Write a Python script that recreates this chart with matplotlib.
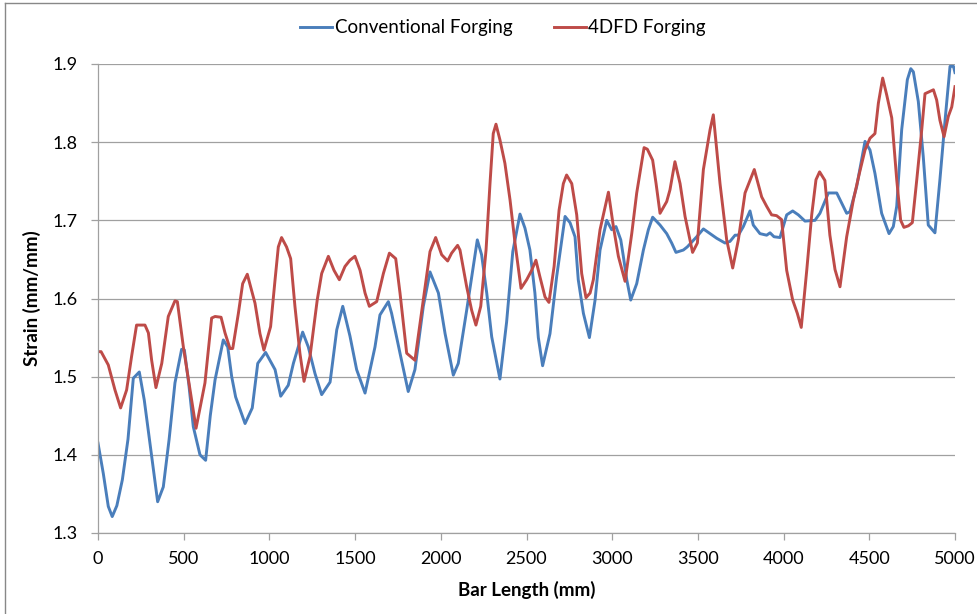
import matplotlib
matplotlib.use("Agg")
import matplotlib.pyplot as plt
from matplotlib.lines import Line2D

conv_x = [0, 31, 60, 83, 110, 142, 175, 206, 241, 270, 303, 348, 381, 415, 449, 488, 504, 530, 556, 595,
          628, 655, 683, 731, 757, 780, 803, 858, 900, 932, 978, 1033, 1066, 1110, 1140, 1194, 1227, 1266, 1305, 1354,
          1393, 1428, 1470, 1509, 1558, 1616, 1645, 1694, 1713, 1762, 1810, 1849, 1898, 1937, 1986, 2025, 2073, 2102, 2151, 2213,
          2238, 2268, 2297, 2345, 2384, 2420, 2462, 2491, 2520, 2549, 2569, 2594, 2637, 2676, 2725, 2754, 2783, 2802, 2832, 2867,
          2900, 2929, 2968, 2997, 3022, 3050, 3065, 3085, 3108, 3143, 3182, 3211, 3236, 3279, 3318, 3347, 3372, 3415, 3438, 3493,
          3532, 3610, 3658, 3687, 3717, 3736, 3765, 3804, 3823, 3862, 3901, 3921, 3944, 3979, 4018, 4053, 4086, 4125, 4183, 4212,
          4261, 4310, 4339, 4368, 4387, 4426, 4475, 4504, 4533, 4572, 4615, 4640, 4660, 4689, 4722, 4742, 4757, 4786, 4815, 4844,
          4883, 4912, 4942, 4971, 4991, 5000]
conv_y = [1.415, 1.376, 1.334, 1.321, 1.335, 1.368, 1.420, 1.498, 1.506, 1.470, 1.415, 1.340, 1.359, 1.420, 1.492, 1.535, 1.534, 1.490, 1.436, 1.400,
          1.393, 1.450, 1.496, 1.547, 1.538, 1.500, 1.474, 1.440, 1.460, 1.517, 1.531, 1.509, 1.475, 1.489, 1.517, 1.557, 1.538, 1.504, 1.477, 1.493,
          1.560, 1.590, 1.552, 1.509, 1.479, 1.538, 1.579, 1.596, 1.581, 1.530, 1.481, 1.509, 1.590, 1.634, 1.607, 1.555, 1.502, 1.517, 1.585, 1.675,
          1.656, 1.607, 1.551, 1.497, 1.570, 1.660, 1.708, 1.690, 1.662, 1.607, 1.550, 1.514, 1.555, 1.628, 1.705, 1.697, 1.679, 1.624, 1.581, 1.550,
          1.598, 1.662, 1.700, 1.688, 1.692, 1.675, 1.654, 1.624, 1.598, 1.619, 1.662, 1.688, 1.704, 1.694, 1.683, 1.671, 1.659, 1.662, 1.666, 1.679,
          1.689, 1.677, 1.671, 1.673, 1.681, 1.681, 1.692, 1.712, 1.694, 1.683, 1.681, 1.684, 1.679, 1.678, 1.707, 1.712, 1.707, 1.699, 1.700, 1.709,
          1.735, 1.735, 1.722, 1.709, 1.711, 1.743, 1.801, 1.790, 1.760, 1.709, 1.683, 1.692, 1.718, 1.816, 1.880, 1.894, 1.890, 1.852, 1.781, 1.694,
          1.684, 1.752, 1.828, 1.897, 1.897, 1.889]

fdfd_x = [0, 18, 60, 99, 132, 167, 196, 225, 274, 294, 313, 338, 372, 410, 449, 463, 498, 537, 572, 624,
          663, 683, 718, 741, 770, 786, 819, 844, 871, 916, 945, 968, 1007, 1033, 1052, 1071, 1100, 1124, 1149, 1178,
          1202, 1237, 1279, 1305, 1344, 1377, 1408, 1441, 1470, 1499, 1529, 1558, 1583, 1626, 1665, 1700, 1737, 1762, 1801, 1849,
          1898, 1937, 1970, 2005, 2040, 2063, 2098, 2112, 2151, 2180, 2205, 2233, 2264, 2287, 2306, 2322, 2345, 2374, 2404, 2433,
          2468, 2501, 2530, 2555, 2578, 2608, 2631, 2661, 2690, 2715, 2734, 2764, 2793, 2822, 2847, 2871, 2890, 2929, 2978, 3007,
          3036, 3075, 3114, 3143, 3186, 3205, 3236, 3256, 3279, 3318, 3337, 3366, 3396, 3425, 3469, 3497, 3532, 3571, 3590, 3629,
          3668, 3703, 3736, 3775, 3829, 3872, 3901, 3930, 3959, 3988, 4018, 4053, 4080, 4103, 4135, 4164, 4189, 4210, 4241, 4270,
          4300, 4329, 4368, 4407, 4442, 4475, 4504, 4533, 4553, 4578, 4602, 4631, 4660, 4683, 4702, 4728, 4751, 4777, 4806, 4825,
          4874, 4893, 4912, 4936, 4961, 4981, 5000]
fdfd_y = [1.532, 1.532, 1.515, 1.483, 1.460, 1.483, 1.526, 1.566, 1.566, 1.556, 1.521, 1.486, 1.517, 1.577, 1.597, 1.596, 1.538, 1.483, 1.434, 1.492,
          1.575, 1.577, 1.576, 1.556, 1.536, 1.536, 1.581, 1.619, 1.631, 1.594, 1.555, 1.534, 1.564, 1.624, 1.666, 1.678, 1.666, 1.651, 1.590, 1.530,
          1.494, 1.526, 1.598, 1.632, 1.654, 1.636, 1.624, 1.641, 1.649, 1.654, 1.636, 1.607, 1.590, 1.596, 1.632, 1.658, 1.651, 1.607, 1.530, 1.521,
          1.598, 1.660, 1.678, 1.656, 1.648, 1.658, 1.668, 1.662, 1.615, 1.585, 1.566, 1.590, 1.662, 1.747, 1.811, 1.823, 1.803, 1.773, 1.726, 1.671,
          1.613, 1.624, 1.636, 1.649, 1.628, 1.602, 1.595, 1.641, 1.713, 1.747, 1.758, 1.747, 1.707, 1.632, 1.601, 1.607, 1.624, 1.688, 1.736, 1.692,
          1.654, 1.622, 1.683, 1.735, 1.793, 1.791, 1.777, 1.747, 1.709, 1.724, 1.739, 1.775, 1.747, 1.705, 1.659, 1.671, 1.765, 1.816, 1.835, 1.747,
          1.675, 1.639, 1.675, 1.735, 1.765, 1.730, 1.718, 1.707, 1.706, 1.701, 1.636, 1.598, 1.581, 1.563, 1.636, 1.707, 1.752, 1.762, 1.751, 1.681,
          1.637, 1.615, 1.679, 1.726, 1.760, 1.790, 1.805, 1.811, 1.850, 1.882, 1.860, 1.831, 1.752, 1.700, 1.691, 1.693, 1.697, 1.752, 1.816, 1.862,
          1.867, 1.854, 1.828, 1.807, 1.833, 1.845, 1.871]

series_names = ["Conventional Forging", "4DFD Forging"]
x_ticks = [0, 500, 1000, 1500, 2000, 2500, 3000, 3500, 4000, 4500, 5000]
y_ticks = [1.3, 1.4, 1.5, 1.6, 1.7, 1.8, 1.9]

assert len(conv_x) == len(conv_y), (len(conv_x), len(conv_y))
assert len(fdfd_x) == len(fdfd_y), (len(fdfd_x), len(fdfd_y))

plt.rcParams['font.family'] = ['Lato', 'DejaVu Sans']

fig = plt.figure(figsize=(9.78, 6.14), dpi=100)
ax = fig.add_axes([98/978, 1-533/614, (955-98)/978, (533-64)/614])

blue = "#4A7EBB"
red = "#BE4B48"
ax.plot(conv_x, conv_y, color=blue, lw=2.1, label=series_names[0], solid_joinstyle='round')
ax.plot(fdfd_x, fdfd_y, color=red, lw=2.1, label=series_names[1], solid_joinstyle='round')

ax.set_xlim(0, 5000)
ax.set_ylim(1.3, 1.9)
ax.set_xticks(x_ticks)
ax.set_yticks(y_ticks)
ax.set_yticklabels([f"{v:.1f}" for v in y_ticks])
ax.grid(axis='y', color='#A0A0A0', lw=0.9)
ax.set_axisbelow(True)
for s in ['top', 'right']:
    ax.spines[s].set_visible(False)
for s in ['left', 'bottom']:
    ax.spines[s].set_color('#A0A0A0')
    ax.spines[s].set_linewidth(0.9)
ax.tick_params(axis='both', colors='#A0A0A0', labelcolor='#000000', labelsize=13, length=5, width=0.9, direction='out')
ax.tick_params(axis='x', pad=8)
ax.tick_params(axis='y', pad=10)

ax.set_xlabel("Bar Length (mm)", fontsize=13.5, fontweight='bold', labelpad=10)
ax.set_ylabel("Strain (mm/mm)", fontsize=13.5, fontweight='bold', labelpad=8)

fig.legend(loc='center', bbox_to_anchor=(503/978, 1-28/614), ncol=2, frameon=False,
           fontsize=13.5, handlelength=1.7, handletextpad=0.15, columnspacing=2.2)

# outer chart border (left and top edges visible)
fig.add_artist(Line2D([5/978, 5/978], [0, 1-3/614], transform=fig.transFigure, color='#888888', lw=1))
fig.add_artist(Line2D([5/978, 1], [1-3/614, 1-3/614], transform=fig.transFigure, color='#888888', lw=1))

fig.savefig("out.png", dpi=100)
